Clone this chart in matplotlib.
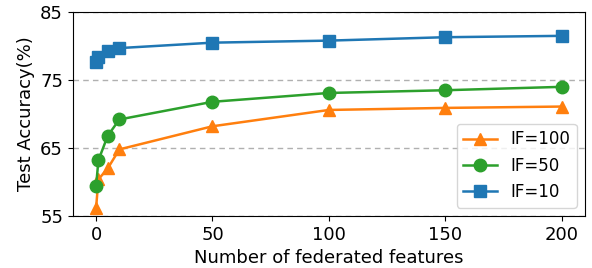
import numpy as np
import matplotlib
matplotlib.use("Agg")
import matplotlib.pyplot as plt

feats = [0, 1, 5, 10, 50, 100, 150, 200]
acc_if100 = [56.2, 60.4, 62.0, 64.8, 68.2, 70.6, 70.9, 71.1]
acc_if50 = [59.4, 63.2, 66.8, 69.2, 71.8, 73.1, 73.5, 74.0]
acc_if10 = [77.6, 78.4, 79.3, 79.7, 80.5, 80.8, 81.3, 81.5]

plt.rcParams["font.size"] = 13
fig = plt.figure(figsize=(5.92, 2.68), dpi=100)
ax = fig.add_axes([0.123, 0.194, 0.865, 0.761])

ax.plot(feats, acc_if100, "-^", color="#ff7f0e", markersize=9, lw=1.8, label="IF=100")
ax.plot(feats, acc_if50, "-o", color="#2ca02c", markersize=9, lw=1.8, label="IF=50")
ax.plot(feats, acc_if10, "-s", color="#1f77b4", markersize=8, lw=1.8, label="IF=10")

ax.set_ylim(55, 85)
ax.set_yticks([55, 65, 75, 85])
ax.set_xlim(-10, 210)
ax.set_xticks([0, 50, 100, 150, 200])
ax.yaxis.grid(True, linestyle=(0, (4, 3)), color="#b0b0b0", lw=1)
ax.set_xlabel("Number of federated features")
ax.set_ylabel("Test Accuracy(%)")
ax.legend(loc="lower right", fontsize=12)

fig.savefig("out.png")
